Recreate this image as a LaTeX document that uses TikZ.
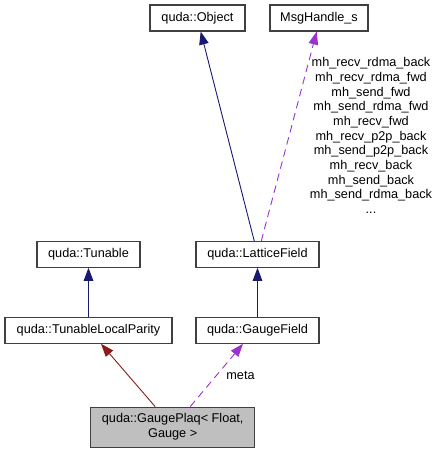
\documentclass[tikz,border=0pt]{standalone}
\usepackage{fontspec}
\setmainfont{Liberation Sans}
\usetikzlibrary{arrows.meta}
\definecolor{inhblue}{RGB}{25,25,112}
\definecolor{inhred}{RGB}{139,26,26}
\definecolor{usepurple}{RGB}{154,50,205}
\definecolor{nodeborder}{RGB}{64,64,64}
\definecolor{hlfill}{RGB}{191,191,191}
\begin{document}
\begin{tikzpicture}[x=1pt,y=-1pt,
  cls/.style={draw=nodeborder,line width=1.1pt,fill=white,inner sep=0pt,
    font=\fontsize{12.7}{15}\selectfont,align=center},
  pubinh/.style={draw=inhblue,line width=0.9pt,-{Triangle[length=13pt,width=9.5pt]}},
  protinh/.style={draw=inhred,line width=0.9pt,-{Triangle[length=13pt,width=9.5pt]}},
  usage/.style={draw=usepurple,line width=0.9pt,dash pattern=on 7.5pt off 5pt,-{Triangle[length=13pt,width=9.5pt]}},
  lbl/.style={font=\fontsize{12.7}{14.7}\selectfont,align=center,inner sep=0pt}]
\useasboundingbox (0,0) rectangle (438,453);
\node[cls,minimum width=95pt,minimum height=26pt] (obj) at (197.5,18) {quda::Object};
\node[cls,minimum width=98pt,minimum height=26pt] (msg) at (319,18) {MsgHandle\_s};
\node[cls,minimum width=103pt,minimum height=25.5pt] (tun) at (88.5,254.5) {quda::Tunable};
\node[cls,minimum width=123pt,minimum height=25.5pt] (lf) at (257.5,254.5) {quda::LatticeField};
\node[cls,minimum width=167pt,minimum height=25.5pt] (tlp) at (88.5,330.5) {quda::TunableLocalParity};
\node[cls,minimum width=123pt,minimum height=25.5pt] (gf) at (257.5,330.5) {quda::GaugeField};
\node[cls,fill=hlfill,minimum width=164pt,minimum height=40pt] (gp) at (172.7,427.2) {quda::GaugePlaq< Float,\\Gauge >};
\draw[pubinh] ([xshift=-3.2pt]lf.north) -- ([xshift=3.2pt]obj.south);
\draw[usage] ([xshift=3.7pt]lf.north) -- ([xshift=-2.3pt]msg.south);
\node[lbl] (msglbl) at (371,135.5) {mh\_recv\_rdma\_back\\mh\_recv\_rdma\_fwd\\mh\_send\_fwd\\mh\_send\_rdma\_fwd\\mh\_recv\_fwd\\mh\_recv\_p2p\_back\\mh\_send\_p2p\_back\\mh\_recv\_back\\mh\_send\_back\\mh\_send\_rdma\_back\\...};
\draw[pubinh] (tlp.north) -- (tun.south);
\draw[pubinh] (gf.north) -- (lf.south);
\draw[protinh] ([xshift=-17.5pt]gp.north) -- ([xshift=12.5pt]tlp.south);
\draw[usage] ([xshift=17.5pt]gp.north) -- ([xshift=-14.5pt]gf.south);
\node[lbl] (metalbl) at (240.5,375) {meta};
\end{tikzpicture}
\end{document}
